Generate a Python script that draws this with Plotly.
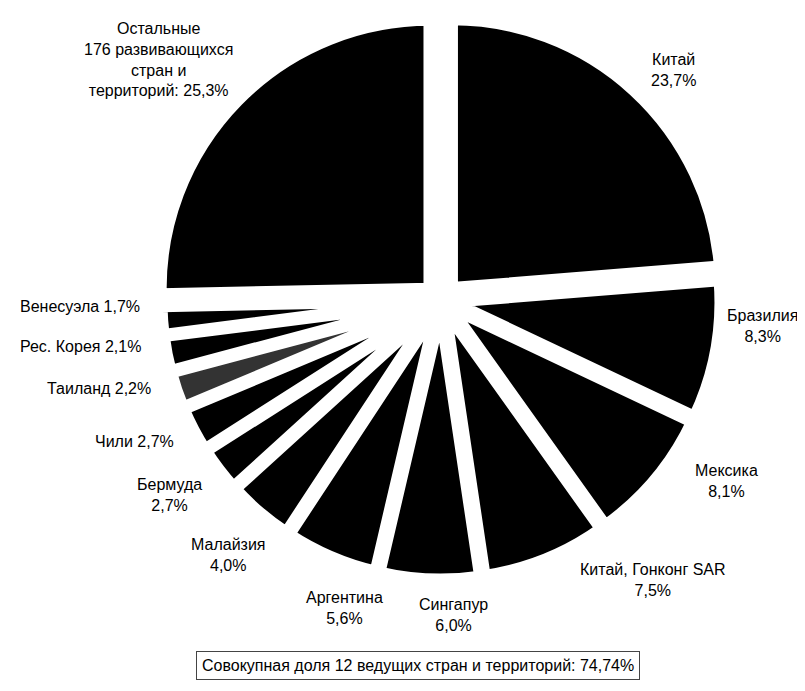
import plotly.graph_objects as go

# Shares of developing countries / territories, clockwise from 12 o'clock
names = [
    "Китай",
    "Бразилия",
    "Мексика",
    "Китай, Гонконг SAR",
    "Сингапур",
    "Аргентина",
    "Малайзия",
    "Бермуда",
    "Чили",
    "Таиланд",
    "Рес. Корея",
    "Венесуэла",
    "Остальные<br>176 развивающихся<br>стран и<br>территорий:",
]
shares = [23.7, 8.3, 8.1, 7.5, 6.0, 5.6, 4.0, 2.7, 2.7, 2.2, 2.1, 1.7, 25.3]
# labels that keep name and value on one line
one_line = {"Чили", "Таиланд", "Рес. Корея", "Венесуэла", names[-1]}
total_text = "Совокупная доля 12 ведущих стран и территорий: 74,74%"

# label placement (pixel centre / anchor in the 805x691 canvas), same order as names
label_xy = [
    (665, 62), (754, 318), (718, 473), (645, 572), (446, 607), (336, 600),
    (220, 547), (161, 487), (168, 433), (145, 380), (135, 338), (134, 298),
    (150, 52),
]

W, H = 805, 691
FONT = "Liberation Sans, Arial, sans-serif"


def fmt(v):
    return f"{v:.1f}%".replace(".", ",")


colors = ["#000000"] * len(names)
colors[names.index("Таиланд")] = "#333333"
pulls = [0.06] + [0.04] * (len(names) - 2) + [0.06]

fig = go.Figure(
    go.Pie(
        labels=names,
        values=shares,
        textinfo="none",
        sort=False,
        direction="clockwise",
        rotation=0,
        pull=pulls,
        marker={"colors": colors, "line": {"color": "#ffffff", "width": 12}},
        domain={"x": [0.1839, 0.8919], "y": [0.165, 0.99]},
        showlegend=False,
        hoverinfo="label+percent",
    )
)

for n, v, (px, py) in zip(names, shares, label_xy):
    single = n in one_line
    fig.add_annotation(
        text=f"{n} {fmt(v)}" if single else f"{n}<br>{fmt(v)}",
        xref="paper",
        yref="paper",
        x=px / W,
        y=1 - py / H,
        xanchor="right" if single and n != names[-1] else "center",
        yanchor="middle",
        align="center",
        showarrow=False,
        font={"family": FONT, "size": 16, "color": "#000000"},
    )

fig.add_annotation(
    text=total_text,
    xref="paper",
    yref="paper",
    x=410 / W,
    y=1 - 672 / H,
    showarrow=False,
    font={"family": FONT, "size": 16, "color": "#000000"},
    bordercolor="#444444",
    borderwidth=1,
    borderpad=5,
    bgcolor="#ffffff",
)

fig.update_layout(
    width=W,
    height=H,
    margin={"l": 0, "r": 0, "t": 0, "b": 0},
    paper_bgcolor="#ffffff",
    plot_bgcolor="#ffffff",
)

fig.write_html("out.html")
